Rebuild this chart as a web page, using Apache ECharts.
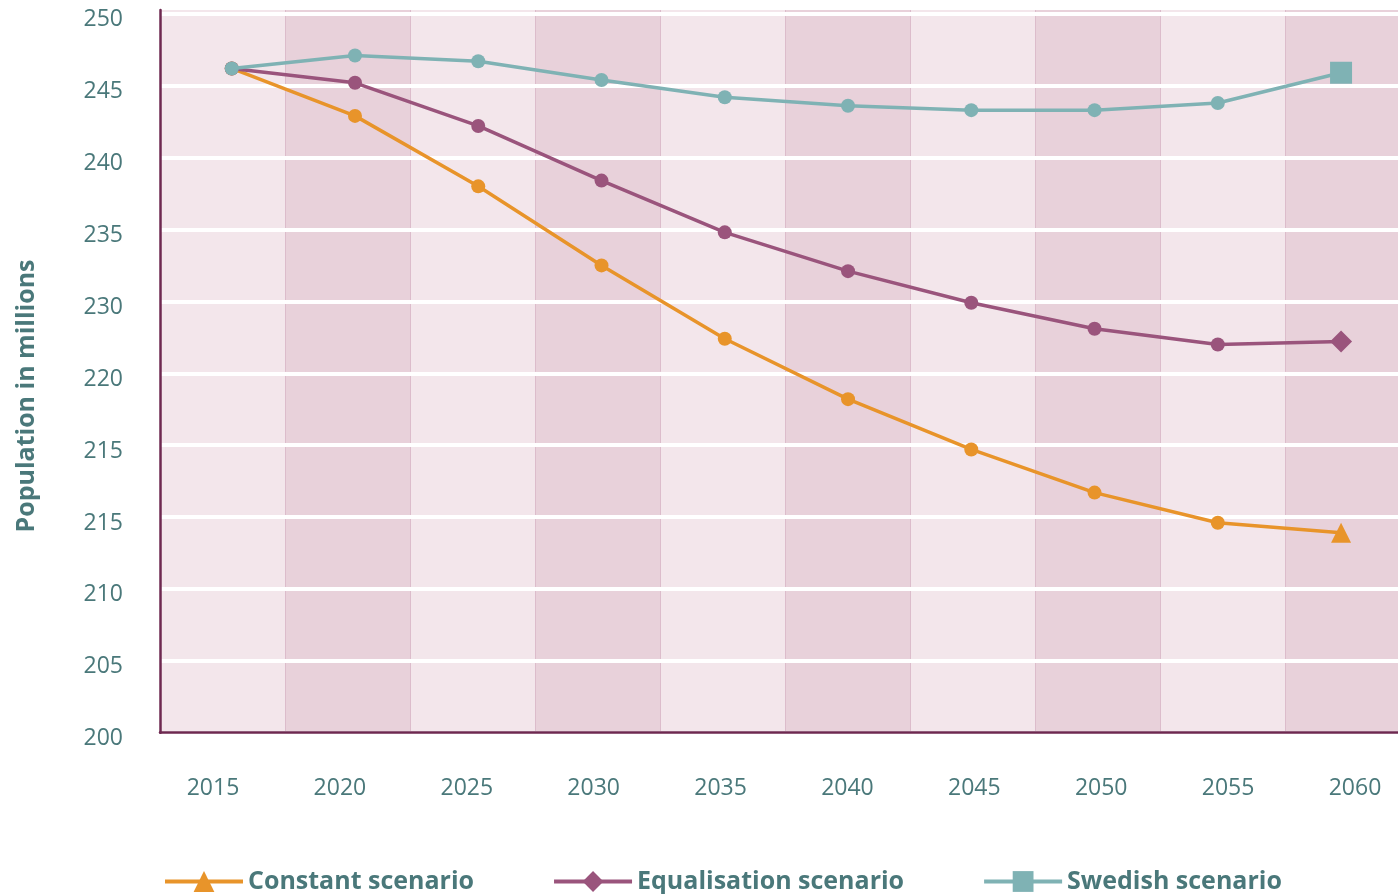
<!DOCTYPE html>
<html lang="en">
<head>
    <meta charset="UTF-8">
    <script src="https://cdn.jsdelivr.net/npm/echarts@6/dist/echarts.min.js"></script>
    <title>Population scenarios</title>
    <style>
        html, body { margin: 0; padding: 0; background: #fff; }
        #main { width: 1398px; height: 894px; }
    </style>
</head>
<body>
    <div id="main"></div>
    <script>
        // data
        var years = [2015, 2020, 2025, 2030, 2035, 2040, 2045, 2050, 2055, 2060];
        var constantScenario = [246.2, 242.9, 238.0, 232.5, 227.4, 223.2, 219.7, 216.7, 214.6, 213.9];
        var equalisationScenario = [246.2, 245.2, 242.2, 238.4, 234.8, 232.1, 229.9, 228.1, 227.0, 227.2];
        var swedishScenario = [246.2, 247.1, 246.7, 245.4, 244.2, 243.6, 243.3, 243.3, 243.8, 245.9];
        // tick labels as printed (bottom to top)
        var yTickLabels = ['200', '205', '210', '215', '215', '220', '230', '235', '240', '245', '250'];
        var seriesNames = ['Constant scenario', 'Equalisation scenario', 'Swedish scenario'];

        var textColor = '#4a787a';
        var fontFamily = '"Open Sans", sans-serif';

        function makeSeries(name, values, color, endSymbol, endSize, z) {
            return {
                name: name,
                type: 'line',
                xAxisIndex: 0,
                yAxisIndex: 0,
                z: z,
                symbol: endSymbol,
                symbolSize: endSize,
                lineStyle: { color: color, width: 3.5 },
                itemStyle: { color: color },
                data: values.map(function (v, i) {
                    if (i < values.length - 1) {
                        return { value: [years[i], v], symbol: 'circle', symbolSize: 14 };
                    }
                    return { value: [years[i], v] };
                })
            };
        }

        var chart = echarts.init(document.getElementById('main'));
        var option = {
            animation: false,
            grid: [
                // data grid
                { left: 160, right: 0, top: 13.8, bottom: 161.3 },
                // background bands (125px wide)
                { left: 160, right: 0, top: 10, bottom: 161.3 },
                // year labels
                { left: 213, right: 43, top: 13.8, bottom: 161.3 }
            ],
            xAxis: [
                {
                    type: 'value', gridIndex: 0, min: 2012.09, max: 2062.31, z: 3,
                    axisLine: { show: true, onZero: false, lineStyle: { color: '#6e2850', width: 2.5 } },
                    axisTick: { show: false }, axisLabel: { show: false }, splitLine: { show: false }
                },
                {
                    // band scale: 5 units = 125px
                    type: 'value', gridIndex: 1, min: 0, max: 49.52, interval: 5, z: 0,
                    axisLine: { show: false }, axisTick: { show: false }, axisLabel: { show: false },
                    splitLine: { show: true, lineStyle: { color: '#dcbccb', width: 1 } },
                    splitArea: { show: true, areaStyle: { color: ['#f3e6eb', '#e8d1da'] } }
                },
                {
                    type: 'value', gridIndex: 2, min: 2015, max: 2060, interval: 5,
                    axisLine: { show: false }, axisTick: { show: false },
                    axisLabel: {
                        margin: 44, color: textColor, fontFamily: fontFamily, fontSize: 23, fontWeight: 500,
                        formatter: function (v) { return String(v); }
                    },
                    splitLine: { show: false }
                }
            ],
            yAxis: [
                {
                    type: 'value', gridIndex: 0, min: 200, max: 250, interval: 5, z: 1,
                    axisLine: { show: false }, axisTick: { show: false },
                    axisLabel: {
                        margin: 37, color: textColor, fontFamily: fontFamily, fontSize: 23, fontWeight: 500,
                        verticalAlign: 'top', lineHeight: 12,
                        formatter: function (v) { return yTickLabels[Math.round((v - 200) / 5)]; }
                    },
                    splitLine: { show: true, lineStyle: { color: '#ffffff', width: 4 } }
                },
                {
                    type: 'value', gridIndex: 1, z: 3,
                    axisLine: { show: true, lineStyle: { color: '#6e2850', width: 2.5 } },
                    axisTick: { show: false }, axisLabel: { show: false }, splitLine: { show: false }
                },
                { type: 'value', gridIndex: 2, show: false }
            ],
            legend: {
                left: 163,
                top: 869,
                padding: 0,
                itemWidth: 78,
                itemHeight: 26,
                itemGap: 78,
                data: seriesNames,
                lineStyle: { width: 4 },
                textStyle: { color: textColor, fontFamily: fontFamily, fontSize: 25, fontWeight: 'bold' }
            },
            graphic: [
                {
                    type: 'text', x: 27, y: 396, rotation: Math.PI / 2,
                    style: {
                        text: 'Population in millions', fill: textColor,
                        font: '700 25px "Open Sans", sans-serif',
                        align: 'center', verticalAlign: 'middle'
                    }
                }
            ],
            series: [
                makeSeries(seriesNames[0], constantScenario, '#e8942a', 'triangle', 20, 4),
                makeSeries(seriesNames[1], equalisationScenario, '#9a547c', 'diamond', 22, 5),
                makeSeries(seriesNames[2], swedishScenario, '#7fb2b4', 'rect', 22, 6)
            ]
        };
        chart.setOption(option);
    </script>
</body>
</html>
